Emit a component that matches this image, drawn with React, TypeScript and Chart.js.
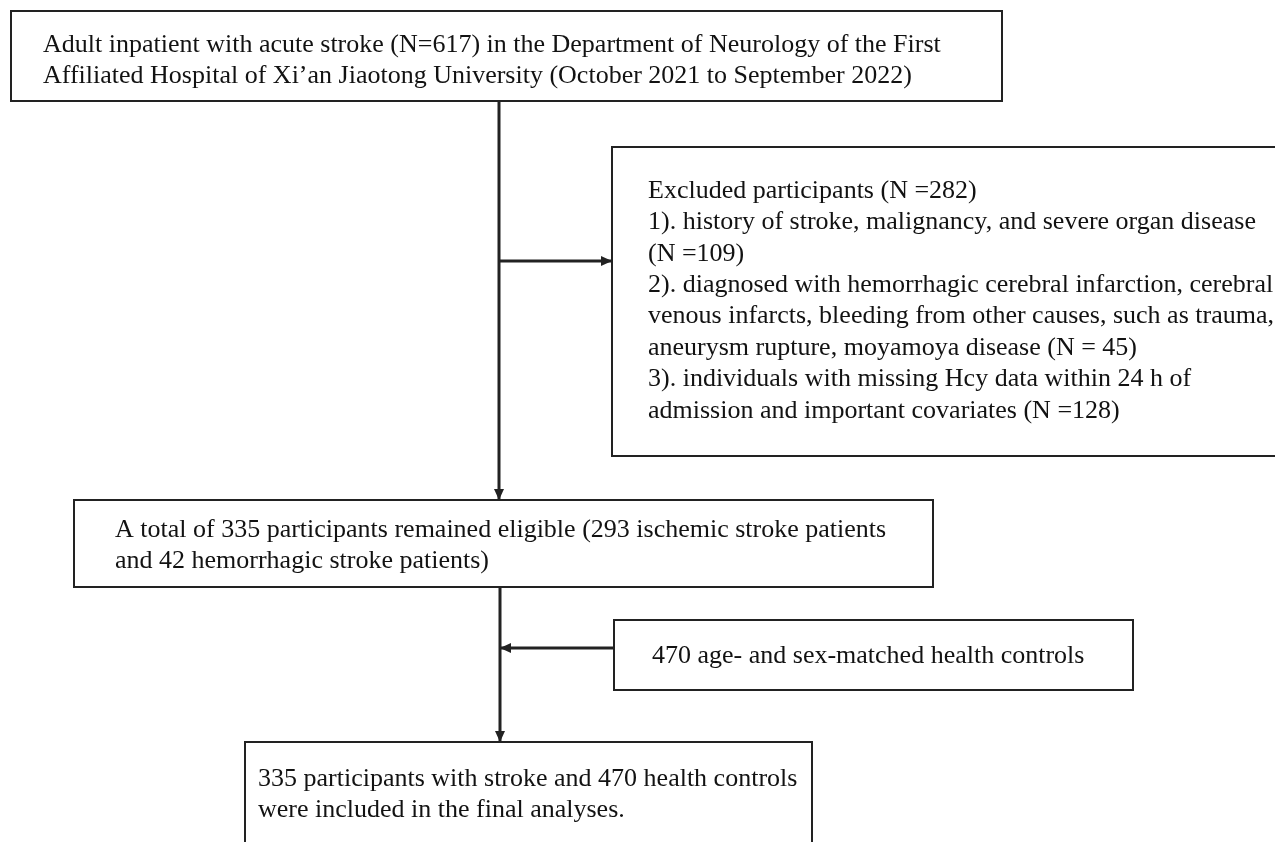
import React, { useEffect, useRef } from "react";
import { Chart, registerables } from "chart.js";

Chart.register(...registerables);

// ---- content (text of each box) ----
const boxTopLines = [
  "Adult inpatient with acute stroke (N=617) in the Department of Neurology of the First",
  "Affiliated Hospital of Xi\u2019an Jiaotong University (October 2021 to September 2022)",
];
const excludedLines = [
  "Excluded participants (N =282)",
  "1). history of stroke, malignancy, and severe organ disease",
  "(N =109)",
  "2). diagnosed with hemorrhagic cerebral infarction, cerebral",
  "venous infarcts, bleeding from other causes, such as trauma,",
  "aneurysm rupture, moyamoya disease (N = 45)",
  "3). individuals with missing Hcy data within 24 h of",
  "admission and important covariates (N =128)",
];
const eligibleLines = [
  "A total of 335 participants remained eligible (293 ischemic stroke patients",
  "and 42 hemorrhagic stroke patients)",
];
const controlLines = ["470 age- and sex-matched health controls"];
const finalLines = [
  "335 participants with stroke and 470 health controls",
  "were included in the final analyses.",
];

// ---- layout (page units, y grows downward) ----
type Box = { l: number; t: number; r: number; b: number; tx: number; ty: number; lh: number; lines: string[] };
const LAYOUT: Box[] = [
  { l: 11, t: 11, r: 1002, b: 101, tx: 43, ty: 45, lh: 31.5, lines: boxTopLines },
  { l: 612, t: 147, r: 1300, b: 456, tx: 648, ty: 191, lh: 31.4, lines: excludedLines },
  { l: 74, t: 500, r: 933, b: 587, tx: 115, ty: 530, lh: 31.5, lines: eligibleLines },
  { l: 614, t: 620, r: 1133, b: 690, tx: 652, ty: 656, lh: 31.5, lines: controlLines },
  { l: 245, t: 742, r: 812, b: 900, tx: 258, ty: 779, lh: 31.5, lines: finalLines },
];
type Conn = { pts: [number, number][]; dir: "down" | "right" | "left" };
const CONNECTORS: Conn[] = [
  { pts: [[499, 101], [499, 500]], dir: "down" },
  { pts: [[499, 261], [612, 261]], dir: "right" },
  { pts: [[500, 587], [500, 742]], dir: "down" },
  { pts: [[614, 648], [500, 648]], dir: "left" },
];

const STROKE = "#222222";
const TEXT = "#121212";
const FONT = '26px "Liberation Serif", "Times New Roman", serif';

const flowPlugin = {
  id: "flowText",
  afterDatasetsDraw(chart: any) {
    const { ctx, scales } = chart;
    const X = (v: number) => scales.x.getPixelForValue(v);
    const Y = (v: number) => scales.y.getPixelForValue(v);
    ctx.save();
    // arrowheads
    ctx.fillStyle = STROKE;
    CONNECTORS.forEach((c) => {
      const [tx, ty] = c.pts[c.pts.length - 1];
      const px = X(tx), py = Y(ty);
      const L = 11, W = 5;
      ctx.beginPath();
      if (c.dir === "down") {
        ctx.moveTo(px, py); ctx.lineTo(px - W, py - L); ctx.lineTo(px + W, py - L);
      } else if (c.dir === "right") {
        ctx.moveTo(px, py); ctx.lineTo(px - L, py - W); ctx.lineTo(px - L, py + W);
      } else {
        ctx.moveTo(px, py); ctx.lineTo(px + L, py - W); ctx.lineTo(px + L, py + W);
      }
      ctx.closePath();
      ctx.fill();
    });
    // text
    ctx.fillStyle = TEXT;
    ctx.font = FONT;
    ctx.textBaseline = "middle";
    ctx.textAlign = "left";
    LAYOUT.forEach((b) => {
      b.lines.forEach((s, i) => {
        ctx.fillText(s, X(b.tx), Y(b.ty + i * b.lh));
      });
    });
    ctx.restore();
  },
};

export default function App() {
  const ref = useRef<HTMLCanvasElement | null>(null);
  useEffect(() => {
    if (!ref.current) return;
    const datasets: any[] = [];
    LAYOUT.forEach((b) => {
      datasets.push({
        data: [
          { x: b.l, y: b.t }, { x: b.r, y: b.t }, { x: b.r, y: b.b }, { x: b.l, y: b.b }, { x: b.l, y: b.t },
        ],
        showLine: true,
        borderColor: STROKE,
        borderWidth: 2,
        pointRadius: 0,
        fill: false,
        tension: 0,
        borderJoinStyle: "miter",
        borderCapStyle: "square",
      });
    });
    CONNECTORS.forEach((c) => {
      datasets.push({
        data: c.pts.map(([x, y]) => ({ x, y })),
        showLine: true,
        borderColor: STROKE,
        borderWidth: 3,
        pointRadius: 0,
        fill: false,
      });
    });
    const chart = new Chart(ref.current, {
      type: "scatter",
      data: { datasets },
      options: {
        animation: false,
        responsive: false,
        layout: { padding: 0 },
        plugins: { legend: { display: false }, tooltip: { enabled: false } },
        events: [],
        scales: {
          x: { type: "linear", min: 0, max: 1275, display: false },
          y: { type: "linear", min: 0, max: 842, reverse: true, display: false },
        },
      },
      plugins: [flowPlugin],
    });
    return () => chart.destroy();
  }, []);
  return (
    <div style={{ position: "fixed", left: 0, top: 0, width: 1275, height: 842, background: "#fff" }}>
      <canvas ref={ref} width={1275} height={842} style={{ display: "block" }} />
    </div>
  );
}
